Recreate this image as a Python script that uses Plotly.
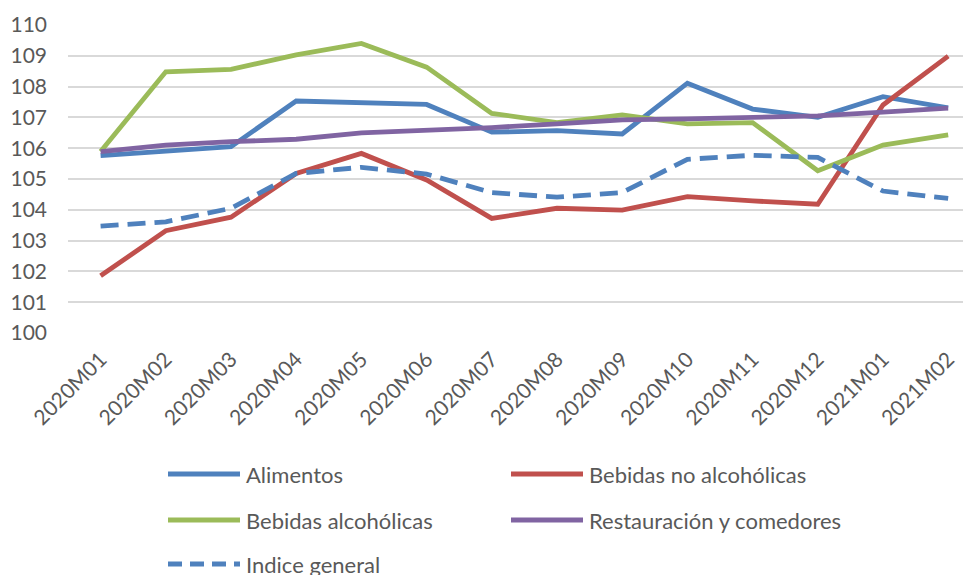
import plotly.graph_objects as go

categories = ["2020M01", "2020M02", "2020M03", "2020M04", "2020M05", "2020M06", "2020M07",
              "2020M08", "2020M09", "2020M10", "2020M11", "2020M12", "2021M01", "2021M02"]

alimentos = [105.76, 105.92, 106.05, 107.53, 107.49, 107.42, 106.52, 106.57, 106.46, 108.11, 107.27, 107.00, 107.67, 107.31]
bebidas_no_alc = [101.86, 103.32, 103.76, 105.18, 105.83, 104.97, 103.72, 104.05, 103.99, 104.43, 104.29, 104.18, 107.40, 108.99]
bebidas_alc = [105.89, 108.48, 108.56, 109.03, 109.40, 108.63, 107.13, 106.83, 107.08, 106.79, 106.83, 105.27, 106.10, 106.43]
restauracion = [105.89, 106.10, 106.21, 106.29, 106.50, 106.57, 106.67, 106.79, 106.92, 106.95, 107.00, 107.05, 107.17, 107.30]
indice_general = [103.47, 103.61, 104.05, 105.18, 105.38, 105.16, 104.56, 104.41, 104.56, 105.64, 105.77, 105.70, 104.61, 104.37]

series_names = ["Alimentos", "Bebidas no alcohólicas", "Bebidas alcohólicas",
                "Restauración y comedores", "Indice general"]
series_values = [alimentos, bebidas_no_alc, bebidas_alc, restauracion, indice_general]
colors = ["#4F81BD", "#C0504D", "#9BBB59", "#8064A2", "#4F81BD"]
dashes = ["solid", "solid", "solid", "solid", "18px,9px"]

# page has an 8px body margin, so the figure is drawn 8px smaller and shifted
OFF = 8
W, H = 971 - OFF, 575 - OFF
L, R = 68 - OFF, 0
T = 24 - OFF
B = H - (334 - OFF)
FONT = "Lato, 'Open Sans', sans-serif"
TXT = "#595959"

fig = go.Figure()
for name, vals, col, dsh in zip(series_names, series_values, colors, dashes):
    fig.add_trace(go.Scatter(
        x=categories, y=vals, name=name, mode="lines",
        line=dict(color=col, width=4.8, dash=dsh),
        showlegend=False,
    ))

# custom legend (Excel-like long line samples); positions in page pixels
pw = W - L - R
ph = H - T - B
def px(x):
    return (x - OFF - L) / pw
def py(y):
    return (H - B - (y - OFF)) / ph

legend_pos = [(168, 474), (511, 474), (168, 520), (511, 520), (168, 564)]
shapes = []
annotations = []
for (lx, ly), name, col, dsh in zip(legend_pos, series_names, colors, dashes):
    shapes.append(dict(type="line", xref="paper", yref="paper",
                       x0=px(lx), x1=px(lx + 72), y0=py(ly), y1=py(ly),
                       line=dict(color=col, width=5, dash="14px,8px" if dsh != "solid" else "solid")))
    annotations.append(dict(xref="paper", yref="paper", x=px(lx + 76), y=py(ly),
                            xanchor="left", yanchor="middle", text=name, showarrow=False,
                            font=dict(family=FONT, size=22, color=TXT)))

fig.update_layout(
    width=W, height=H,
    margin=dict(l=L, r=R, t=T, b=B, autoexpand=False),
    paper_bgcolor="white", plot_bgcolor="white",
    showlegend=False,
    shapes=shapes, annotations=annotations,
    font=dict(family=FONT, color=TXT, size=20),
    xaxis=dict(
        type="category", range=[-0.5, 13.35], automargin=False,
        tickangle=-45, ticks="", showgrid=False, zeroline=False, showline=False,
        tickfont=dict(family=FONT, size=21, color=TXT),
        ticklabelstandoff=8,
    ),
    yaxis=dict(
        range=[99.97, 110.03], tickmode="array", automargin=False,
        tickvals=list(range(100, 111)), ticktext=[str(v) for v in range(100, 111)],
        showgrid=True, gridcolor="#D9D9D9", gridwidth=1.8,
        zeroline=False, showline=False, ticks="",
        tickfont=dict(family=FONT, size=21, color=TXT),
        ticklabelstandoff=20,
    ),
)

fig.write_html("out.html")
